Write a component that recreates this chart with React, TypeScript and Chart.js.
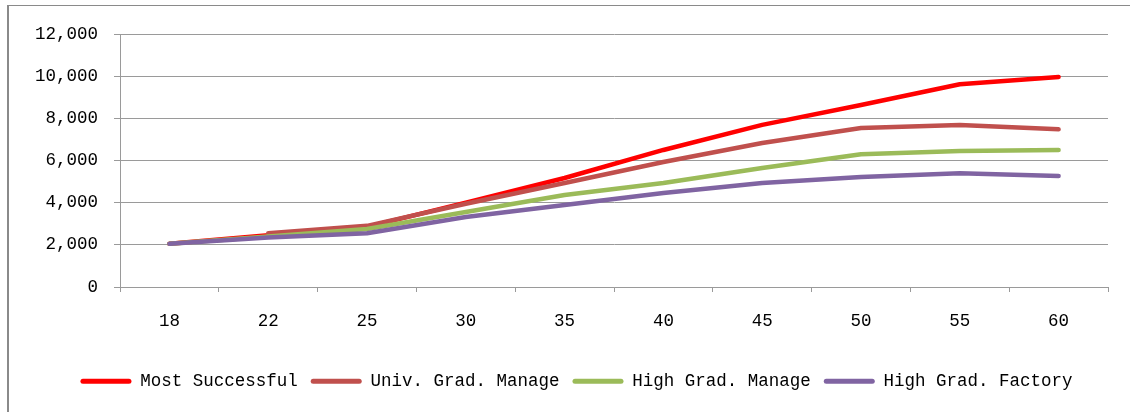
import React, { useEffect, useRef } from "react";
import { Chart, registerables } from "chart.js";

Chart.register(...registerables);

const ages = ["18", "22", "25", "30", "35", "40", "45", "50", "55", "60"];
const mostSuccessful = [2050, 2450, 2850, 4000, 5170, 6500, 7690, 8630, 9620, 9960];
const univGradManage = [null, 2550, 2900, 3950, 4930, 5930, 6830, 7540, 7680, 7480];
const highGradManage = [2050, 2400, 2750, 3560, 4360, 4930, 5640, 6300, 6450, 6500];
const highGradFactory = [2050, 2350, 2550, 3320, 3890, 4460, 4930, 5220, 5400, 5270];

const seriesNames = ["Most Successful", "Univ. Grad. Manage", "High Grad. Manage", "High Grad. Factory"];
const seriesColors = ["#FF0000", "#C0504D", "#9BBB59", "#8064A2"];

const FONT = { family: "'Liberation Mono', 'DejaVu Sans Mono', monospace", size: 17.5 };
const GRID = "#9a9a9a";

const shiftLegend = {
  id: "shiftLegend",
  afterLayout(chart: any) {
    if (chart.legend) {
      chart.legend.left += 45;
    }
  },
};

export default function App() {
  const ref = useRef<HTMLCanvasElement | null>(null);

  useEffect(() => {
    if (!ref.current) return;
    const values = [mostSuccessful, univGradManage, highGradManage, highGradFactory];
    const chart = new Chart(ref.current, {
      type: "line",
      data: {
        labels: ages,
        datasets: values.map((v, i) => ({
          label: seriesNames[i],
          data: v,
          borderColor: seriesColors[i],
          backgroundColor: seriesColors[i],
          borderWidth: 4.5,
          borderCapStyle: "round",
          borderJoinStyle: "round",
          pointRadius: 0,
          tension: 0,
          spanGaps: false,
          order: 4 - i,
        })),
      },
      plugins: [shiftLegend],
      options: {
        responsive: false,
        animation: false,
        layout: { padding: { left: 0, right: 22, top: 34, bottom: 12 } },
        plugins: {
          tooltip: { enabled: false },
          legend: {
            position: "bottom",
            labels: {
              font: FONT,
              color: "#000",
              boxWidth: 51,
              boxHeight: 5,
              padding: 13,
              useBorderRadius: true,
              borderRadius: 2.5,
              sort: (a: any, b: any) => a.datasetIndex - b.datasetIndex,
              generateLabels: (c: any) =>
                (Chart.defaults.plugins.legend.labels.generateLabels as any)(c).map((it: any) => ({
                  ...it,
                  lineWidth: 0,
                  fillStyle: seriesColors[it.datasetIndex],
                })),
            },
          },
        },
        scales: {
          x: {
            offset: true,
            grid: {
              offset: true,
              drawOnChartArea: false,
              drawTicks: true,
              tickLength: 5,
              color: GRID,
            },
            border: { display: true, color: GRID, width: 1 },
            ticks: { font: FONT, color: "#000", padding: 19, maxRotation: 0, autoSkip: false },
            afterFit: (s: any) => {
              s.height = 72.5;
            },
          },
          y: {
            min: 0,
            max: 12000,
            grid: { color: GRID, tickLength: 6, lineWidth: 1 },
            border: { display: true, color: GRID, width: 1 },
            ticks: {
              stepSize: 2000,
              font: FONT,
              color: "#000",
              padding: 16,
              callback: (v: any) => Number(v).toLocaleString("en-US"),
            },
            afterFit: (s: any) => {
              s.width = 120;
            },
          },
        },
      } as any,
    });
    return () => chart.destroy();
  }, []);

  return (
    <div style={{ position: "absolute", left: 0, top: 0, width: 1130, height: 412, background: "#fff" }}>
      <div
        style={{
          position: "absolute",
          left: 7,
          top: 5,
          width: 1123,
          height: 407,
          borderLeft: "2px solid #8a8a8a",
          borderTop: "1px solid #8a8a8a",
          boxSizing: "border-box",
        }}
      />
      <canvas ref={ref} width={1130} height={412} style={{ position: "absolute", left: 0, top: 0 }} />
    </div>
  );
}
